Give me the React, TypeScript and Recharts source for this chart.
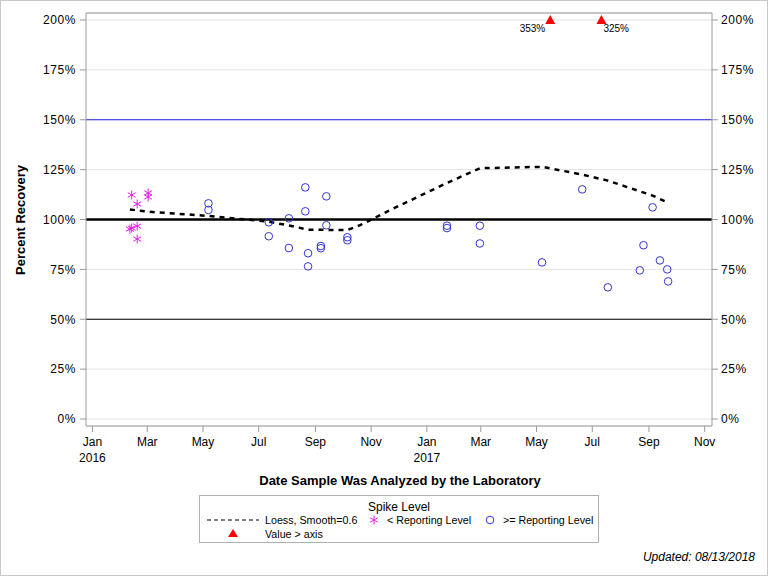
import {
  ComposedChart,
  Line,
  Scatter,
  XAxis,
  YAxis,
  CartesianGrid,
  ReferenceLine,
} from "recharts";

const FONT = "'Liberation Sans', Arial, sans-serif";

// Spike results below the reporting level (magenta asterisks)
const belowDates = [
  "2016-02-11", "2016-02-13", "2016-02-13", "2016-02-19",
  "2016-02-19", "2016-02-19", "2016-03-02", "2016-03-02",
];
const belowValues = [95.2, 95.7, 112.3, 107.8, 96.7, 90.2, 113.3, 111.3];

// Spike results at or above the reporting level (blue circles)
const aboveDates = [
  "2016-05-07", "2016-05-07", "2016-07-12", "2016-07-12", "2016-08-03",
  "2016-08-03", "2016-08-21", "2016-08-21", "2016-08-24", "2016-08-24",
  "2016-09-07", "2016-09-07", "2016-09-13", "2016-09-13", "2016-10-06",
  "2016-10-06", "2017-01-23", "2017-01-23", "2017-02-28", "2017-02-28",
  "2017-05-07", "2017-06-20", "2017-07-18", "2017-08-22", "2017-08-26",
  "2017-09-05", "2017-09-13", "2017-09-21", "2017-09-22",
];
const aboveValues = [
  108.1, 104.8, 98.6, 91.6, 100.6,
  85.7, 116.1, 104.1, 83.1, 76.5,
  86.7, 85.6, 111.6, 97.1, 91.1,
  89.6, 96.9, 95.7, 96.9, 88.0,
  78.5, 115.1, 66.0, 74.5, 87.1,
  106.1, 79.5, 75.0, 69.0,
];

// Loess fit, smooth = 0.6
const loessDates = [
  "2016-02-11", "2016-03-02", "2016-05-07", "2016-07-12", "2016-08-03",
  "2016-08-24", "2016-10-06", "2016-10-20", "2016-11-22", "2017-01-23",
  "2017-02-28", "2017-05-07", "2017-06-20", "2017-07-18", "2017-09-05",
  "2017-09-22",
];
const loessValues = [
  105.0, 103.9, 101.8, 98.9, 97.0,
  94.9, 94.7, 97.2, 104.8, 118.3,
  125.7, 126.4, 122.5, 119.5, 112.0,
  108.4,
];

// Values beyond the axis (drawn at the top)
const overDates = ["2017-05-16", "2017-07-11"];
const overValues = [353, 325];

const yTicks = [0, 25, 50, 75, 100, 125, 150, 175, 200];
const xTickDates = [
  "2016-01-01", "2016-03-01", "2016-05-01", "2016-07-01", "2016-09-01", "2016-11-01",
  "2017-01-01", "2017-03-01", "2017-05-01", "2017-07-01", "2017-09-01", "2017-11-01",
];
const MONTHS = ["Jan", "Feb", "Mar", "Apr", "May", "Jun", "Jul", "Aug", "Sep", "Oct", "Nov", "Dec"];

const toTime = (s: string) => Date.parse(s);

const belowData = belowDates.map((d, i) => ({ date: toTime(d), value: belowValues[i] }));
const aboveData = aboveDates.map((d, i) => ({ date: toTime(d), value: aboveValues[i] }));
const loessData = loessDates.map((d, i) => ({ date: toTime(d), value: loessValues[i] }));
const overData = overDates.map((d, i) => ({ date: toTime(d), value: 200, actual: overValues[i], idx: i }));
const xTicks = xTickDates.map(toTime);

const X_DOMAIN = [toTime("2015-12-25"), toTime("2017-11-09")];
const Y_DOMAIN = [-3.5, 203.5];

const MAGENTA = "#e81ee8";
const BLUE = "#3434d0";

const Asterisk = (props: any) => {
  const { cx, cy } = props;
  const r = 4.5;
  const dx = r * 0.87;
  const dy = r * 0.5;
  return (
    <g stroke={MAGENTA} strokeWidth={1}>
      <line x1={cx} y1={cy - r} x2={cx} y2={cy + r} />
      <line x1={cx - dx} y1={cy - dy} x2={cx + dx} y2={cy + dy} />
      <line x1={cx - dx} y1={cy + dy} x2={cx + dx} y2={cy - dy} />
    </g>
  );
};

const OpenCircle = (props: any) => {
  const { cx, cy } = props;
  return <circle cx={cx} cy={cy} r={3.8} fill="none" stroke={BLUE} strokeWidth={1} />;
};

const OverTriangle = (props: any) => {
  const { cx, cy, payload } = props;
  const left = payload.idx === 0;
  return (
    <g>
      <path d={`M${cx},${cy - 5} L${cx + 5},${cy + 4} L${cx - 5},${cy + 4} Z`} fill="#ff0000" />
      <text
        x={left ? cx - 5 : cx + 2}
        y={cy + 12}
        textAnchor={left ? "end" : "start"}
        fontSize={10}
        fontFamily={FONT}
        fill="#000"
      >
        {payload.actual}%
      </text>
    </g>
  );
};

const DateTick = (props: any) => {
  const { x, y, payload } = props;
  const dt = new Date(payload.value);
  const m = dt.getUTCMonth();
  return (
    <g>
      <text x={x} y={y + 12} textAnchor="middle" fontSize={12} fontFamily={FONT} fill="#000">
        {MONTHS[m]}
      </text>
      {m === 0 && (
        <text x={x} y={y + 28} textAnchor="middle" fontSize={12} fontFamily={FONT} fill="#000">
          {dt.getUTCFullYear()}
        </text>
      )}
    </g>
  );
};

const LegendBox = () => (
  <div
    style={{
      position: "absolute",
      left: 198,
      top: 494,
      width: 400,
      height: 48,
      border: "1px solid #b0b0b0",
      boxSizing: "border-box",
      background: "#fff",
    }}
  >
    <svg width={398} height={46} style={{ position: "absolute", left: 0, top: 0 }}>
      <text x={199} y={15} textAnchor="middle" fontSize={12} fontFamily={FONT}>Spike Level</text>
      <line x1={7} y1={24} x2={59} y2={24} stroke="#000" strokeWidth={1} strokeDasharray="4 3" />
      <text x={65} y={28} fontSize={10.7} fontFamily={FONT}>Loess, Smooth=0.6</text>
      <Asterisk cx={174} cy={24} />
      <text x={187} y={28} fontSize={10.7} fontFamily={FONT}>&lt; Reporting Level</text>
      <OpenCircle cx={290} cy={24} />
      <text x={303} y={28} fontSize={10.7} fontFamily={FONT}>&gt;= Reporting Level</text>
      <path d="M33,33 L38,41 L28,41 Z" fill="#ff0000" />
      <text x={65} y={42} fontSize={10.7} fontFamily={FONT}>Value &gt; axis</text>
    </svg>
  </div>
);

const tickStyle = { fill: "#000", fontSize: 12, fontFamily: FONT, letterSpacing: 0.6 };

export default function App() {
  return (
    <div
      style={{
        position: "absolute",
        left: 0,
        top: 0,
        width: 768,
        height: 576,
        background: "#fff",
        border: "1px solid #c8c8c8",
        boxSizing: "border-box",
        fontFamily: FONT,
      }}
    >
      <div style={{ position: "absolute", left: -1, top: -1 }}>
        <ComposedChart width={768} height={576} margin={{ top: 13, right: 0, bottom: 0, left: 0 }}>
          <CartesianGrid horizontal vertical={false} stroke="#e2e2e2" yAxisId="left" />
          <XAxis
            dataKey="date"
            type="number"
            scale="time"
            domain={X_DOMAIN}
            ticks={xTicks}
            interval={0}
            allowDataOverflow
            height={150}
            stroke="#9a9a9a"
            tickSize={6}
            tick={<DateTick />}
          />
          <YAxis
            yAxisId="left"
            dataKey="value"
            type="number"
            domain={Y_DOMAIN}
            ticks={yTicks}
            interval={0}
            allowDataOverflow
            width={86}
            stroke="#9a9a9a"
            tickSize={6}
            tickMargin={4}
            tickFormatter={(v: number) => `${v}%`}
            tick={tickStyle}
          />
          <YAxis
            yAxisId="right"
            orientation="right"
            type="number"
            domain={Y_DOMAIN}
            ticks={yTicks}
            interval={0}
            allowDataOverflow
            width={56}
            stroke="#9a9a9a"
            tickSize={6}
            tickMargin={3}
            tickFormatter={(v: number) => `${v}%`}
            tick={tickStyle}
          />
          <ReferenceLine yAxisId="left" y={Y_DOMAIN[1]} stroke="#9a9a9a" ifOverflow="extendDomain" />
          <ReferenceLine yAxisId="left" y={150} stroke="#2424e6" strokeWidth={1} />
          <ReferenceLine yAxisId="left" y={100} stroke="#000" strokeWidth={2.5} />
          <ReferenceLine yAxisId="left" y={50} stroke="#000" strokeWidth={1} />
          <Line
            yAxisId="left"
            data={loessData}
            dataKey="value"
            type="linear"
            stroke="#000"
            strokeWidth={2.5}
            strokeDasharray="5 5"
            dot={false}
            activeDot={false}
            isAnimationActive={false}
          />
          <Scatter yAxisId="left" data={belowData} dataKey="value" shape={<Asterisk />} isAnimationActive={false} />
          <Scatter yAxisId="left" data={aboveData} dataKey="value" shape={<OpenCircle />} isAnimationActive={false} />
          <Scatter yAxisId="left" data={overData} dataKey="value" shape={<OverTriangle />} isAnimationActive={false} />
        </ComposedChart>
      </div>
      <LegendBox />
      <div
        style={{
          position: "absolute",
          left: 19,
          top: 219,
          transform: "translate(-50%, -50%) rotate(-90deg)",
          fontWeight: "bold",
          fontSize: 13,
          whiteSpace: "nowrap",
        }}
      >
        Percent Recovery
      </div>
      <div
        style={{
          position: "absolute",
          left: 86,
          width: 626,
          top: 472,
          textAlign: "center",
          fontWeight: "bold",
          fontSize: 13,
        }}
      >
        Date Sample Was Analyzed by the Laboratory
      </div>
      <div
        style={{
          position: "absolute",
          right: 12,
          top: 549,
          fontStyle: "italic",
          fontSize: 12,
        }}
      >
        Updated: 08/13/2018
      </div>
    </div>
  );
}
